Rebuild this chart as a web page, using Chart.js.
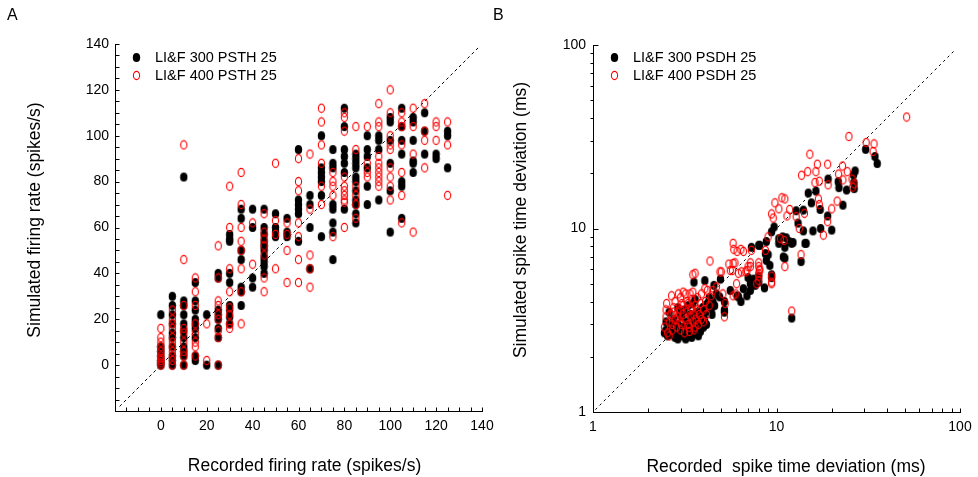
<!DOCTYPE html>
<html>
<head>
<meta charset="utf-8">
<script src="https://cdn.jsdelivr.net/npm/chart.js@4/dist/chart.umd.min.js"></script>
<style>
  html, body { margin: 0; padding: 0; background: #fff; }
  #wrap { position: relative; width: 978px; height: 477px; }
  canvas { position: absolute; top: 0; }
  #rates { left: 0; }
  #spikes { left: 489px; }
</style>
</head>
<body>
<div id="wrap">
  <canvas id="rates" width="520" height="477"></canvas>
  <canvas id="spikes" width="489" height="477"></canvas>
</div>
<script>
// Panel A: firing rates, one column of simulated values per recorded rate
var recordedRates = [0, 5, 10, 15, 20, 25, 30, 35, 40, 45, 50, 55, 60, 65, 70, 75, 80, 85, 90, 95, 100, 105, 110, 115, 120, 125];

var psth300 = [
	[22, 8, 6, 4, 2, 1, 0],
	[30, 26, 22, 18, 14, 12, 8, 4, 2, 0],
	[82, 28, 26, 22, 18, 15, 12, 8, 6, 4, 0],
	[36, 28, 24, 20, 18, 16, 12, 4, 2],
	[22, 0],
	[40, 38, 24, 22, 20, 16, 12, 0],
	[57, 55, 54, 40, 36, 26, 24, 21, 18],
	[68, 64, 50, 46, 34, 32, 26],
	[68, 60, 38, 34],
	[68, 60, 57, 54, 52, 50, 47, 45, 43, 40],
	[66, 60, 58, 56],
	[64, 58, 56],
	[94, 72, 70, 68, 66, 54],
	[74, 70, 60, 42],
	[100, 86, 84, 82, 80, 74, 56],
	[94, 88, 86, 70, 68, 62, 58, 46],
	[112, 104, 94, 91, 88, 84, 68],
	[92, 90, 88, 86, 82, 80, 76, 72, 70, 66, 62],
	[100, 94, 91, 86, 78, 70],
	[100, 98, 94, 72],
	[108, 106, 98, 88, 76, 58],
	[112, 104, 98, 92, 80, 78, 64],
	[108, 106, 98, 89, 88, 84],
	[110, 102, 92],
	[92, 90],
	[102, 100, 86]
];

var psth400 = [
	[16, 12, 10, 8, 6, 4, 3, 2, 1, 0],
	[24, 20, 18, 16, 12, 10, 8, 6, 4, 2, 0],
	[96, 46, 26, 16, 14, 10, 6, 4, 0],
	[38, 32, 26, 18, 14, 10, 8, 4],
	[18, 2],
	[52, 38, 28, 26, 22, 20, 15, 12, 0],
	[78, 60, 42, 32, 25, 22, 18, 16],
	[84, 70, 60, 54, 50, 42, 32, 18],
	[62, 44],
	[66, 58, 55, 52, 48, 38, 32],
	[88, 63, 57, 42],
	[62, 57, 50, 36],
	[90, 80, 76, 62, 56, 46, 36],
	[92, 68, 48, 42, 34],
	[112, 106, 96, 88, 78, 70],
	[84, 80, 78, 74, 56],
	[110, 108, 102, 82, 78, 76, 74, 72, 71, 60],
	[104, 94, 78, 74, 70, 64],
	[104, 88, 84, 82],
	[114, 106, 104, 91, 88, 86, 84, 82, 80, 78],
	[120, 110, 100, 96, 94, 86, 82, 78, 72],
	[110, 106, 104, 96, 84, 74, 62],
	[112, 104, 92, 58],
	[114, 102, 98, 86],
	[106, 104, 98],
	[106, 96, 74]
];

// Panel B: [recorded, simulated] spike time deviation in ms
var psdh300 = [
	[2.45, 2.7], [2.5, 2.8], [2.5, 3.1], [2.55, 2.6], [2.6, 3.5], [2.65, 2.9], [2.7, 2.65], [2.7, 3.0],
	[2.75, 3.2], [2.8, 2.55], [2.85, 2.8], [2.9, 2.5], [2.9, 3.0], [2.9, 3.7], [2.95, 2.6], [3.0, 2.75],
	[3.0, 3.4], [3.05, 3.3], [3.1, 2.6], [3.1, 2.9], [3.15, 3.6], [3.2, 2.5], [3.2, 2.7], [3.25, 3.1],
	[3.3, 2.6], [3.3, 3.8], [3.35, 2.85], [3.4, 3.4], [3.45, 2.55], [3.45, 2.65], [3.5, 2.9], [3.5, 3.9],
	[3.55, 3.2], [3.55, 5.1], [3.6, 2.7], [3.6, 4.1], [3.65, 2.95], [3.7, 3.5], [3.75, 2.6], [3.75, 2.8],
	[3.8, 3.1], [3.85, 2.75], [3.9, 3.3], [3.95, 3.7], [4.0, 2.9], [4.05, 3.2], [4.1, 3.5], [4.15, 3.0],
	[4.2, 3.9], [4.3, 4.2], [4.4, 3.6], [4.45, 3.4], [4.5, 4.0], [4.6, 3.8], [4.7, 4.4],
	[4.07, 5.2], [4.56, 4.9], [4.95, 5.3], [4.9, 4.24], [5.2, 4.0], [5.2, 3.5], [5.2, 3.6], [5.6, 4.6],
	[6.1, 4.3], [6.2, 4.25], [6.4, 4.0], [6.6, 4.7], [6.9, 4.3], [7.0, 5.4], [7.2, 5.0], [7.2, 4.6],
	[7.5, 5.3], [7.65, 4.9], [8.0, 5.1], [8.0, 5.5], [8.6, 4.75], [8.8, 6.7], [9.0, 7.2], [9.2, 6.3],
	[9.4, 5.4], [9.4, 5.6], [7.3, 7.9], [8.0, 8.1], [8.1, 8.1], [8.7, 7.3], [8.8, 8.5], [9.7, 10.2],
	[9.4, 9.6], [10.3, 8.8], [10.8, 9.0], [11.3, 8.9], [11.7, 8.5], [12.3, 8.4], [10.3, 8.3], [11.1, 7.9],
	[11.1, 6.9], [10.9, 7.0], [12.1, 8.3], [13.6, 6.6], [14.3, 8.3], [14.5, 8.3], [12.1, 3.25], [13.1, 10.7],
	[12.8, 12.5], [14.0, 9.7], [15.8, 9.7], [17.4, 10.0], [20.0, 9.8], [19.0, 11.7], [14.0, 12.6], [15.5, 13.8],
	[17.3, 12.7], [23.0, 13.4], [14.9, 15.6], [16.4, 16.0], [19.1, 18.6], [21.7, 18.0], [21.9, 16.7], [24.1, 16.2],
	[26.8, 20.6], [26.3, 19.6], [26.4, 17.8], [26.5, 16.5], [30.6, 27.0], [34.4, 24.7], [35.4, 22.6]
];

var psdh400 = [
	[2.45, 2.9], [2.5, 3.3], [2.5, 3.6], [2.52, 3.9], [2.55, 2.7], [2.6, 2.6], [2.6, 3.1], [2.65, 3.4],
	[2.68, 4.3], [2.7, 2.8], [2.7, 3.0], [2.75, 3.5], [2.75, 3.7], [2.8, 3.2], [2.8, 4.0], [2.85, 2.9],
	[2.9, 3.3], [2.9, 3.5], [2.92, 4.4], [2.95, 3.1], [3.0, 2.8], [3.0, 3.6], [3.0, 4.2], [3.05, 3.0],
	[3.05, 3.9], [3.1, 3.4], [3.1, 3.8], [3.1, 4.5], [3.15, 2.7], [3.2, 3.2], [3.2, 4.4], [3.25, 3.5],
	[3.25, 4.0], [3.3, 3.0], [3.3, 3.9], [3.35, 2.75], [3.35, 2.9], [3.38, 4.4], [3.4, 3.3], [3.4, 3.6],
	[3.45, 3.7], [3.45, 4.1], [3.5, 3.1], [3.5, 4.5], [3.55, 2.8], [3.55, 3.4], [3.6, 2.9], [3.6, 3.8],
	[3.65, 3.2], [3.7, 3.6], [3.7, 4.2], [3.75, 3.0], [3.8, 3.4], [3.85, 3.9], [3.9, 3.2], [3.9, 4.4],
	[4.0, 3.1], [4.0, 3.6], [4.1, 4.0], [4.15, 3.4], [4.2, 4.6], [4.3, 3.8], [4.4, 4.3], [4.5, 4.6],
	[3.5, 5.6], [3.6, 5.7], [4.07, 4.7], [4.34, 6.65], [4.7, 4.8], [4.92, 5.8], [5.0, 5.8], [5.1, 4.4],
	[5.2, 3.3], [5.25, 3.9], [5.5, 6.4], [5.6, 5.9], [5.75, 5.9], [5.8, 6.45], [5.8, 4.3], [5.94, 6.5],
	[6.0, 4.4], [6.06, 5.0], [6.2, 5.7], [6.45, 5.8], [6.8, 5.8], [6.9, 5.9], [7.0, 6.2], [7.2, 6.2],
	[7.2, 6.5], [7.8, 5.0], [8.0, 5.2], [8.0, 5.5], [8.0, 5.7], [8.0, 6.2], [8.0, 6.5], [8.1, 5.9],
	[8.1, 6.0], [9.4, 5.0], [9.4, 5.1], [9.4, 5.5], [5.8, 8.3], [5.85, 7.7], [6.1, 7.5], [6.4, 7.7],
	[6.6, 7.5], [7.3, 7.6], [8.7, 7.6], [9.0, 9.0], [10.5, 8.8], [11.0, 8.6], [11.1, 6.2], [13.6, 7.2],
	[12.1, 3.55], [9.8, 13.8], [10.3, 12.8], [9.4, 12.0], [9.6, 11.4], [11.8, 12.7], [11.4, 11.7], [11.1, 14.5],
	[10.7, 14.7], [12.8, 11.6], [13.3, 10.0], [14.2, 12.1], [14.8, 20.4], [13.7, 19.5], [16.4, 20.4], [15.2, 25.4],
	[16.7, 22.4], [19.0, 22.4], [17.1, 18.1], [16.2, 17.8], [16.9, 14.5], [17.1, 13.5], [18.0, 9.2], [19.1, 17.3],
	[20.0, 12.8], [21.4, 14.1], [19.0, 10.9], [22.9, 21.9], [21.8, 19.8], [24.3, 20.4], [25.8, 18.6], [23.0, 18.4],
	[26.5, 17.5], [26.0, 16.8], [24.8, 31.7], [30.8, 29.4], [34.0, 28.9], [33.6, 26.3], [51.2, 40.5]
];

var rateTicks = [0, 20, 40, 60, 80, 100, 120, 140];
var decadeTicks = [1, 10, 100];

var FONT = '"Liberation Sans", Arial, Helvetica, sans-serif';

// Small elliptical markers, filled black and open red
function ellipseMark(filled) {
	var c = document.createElement('canvas');
	c.width = 9;
	c.height = 11;
	var g = c.getContext('2d');
	g.beginPath();
	if (filled) {
		g.ellipse(4.5, 5.5, 3.7, 4.5, 0, 0, Math.PI * 2);
		g.fillStyle = '#000';
		g.fill();
	} else {
		g.ellipse(4.5, 5.5, 3.1, 4.1, 0, 0, Math.PI * 2);
		g.strokeStyle = '#ff0000';
		g.lineWidth = 1.1;
		g.stroke();
	}
	return c;
}
var blackMark = ellipseMark(true);
var redMark = ellipseMark(false);

function columnPoints(cols) {
	return recordedRates.flatMap(function (x, i) {
		return cols[i].map(function (y) { return { x: x, y: y }; });
	});
}

function pairPoints(list) {
	return list.map(function (p) { return { x: p[0], y: p[1] }; });
}

function range(from, to, step) {
	var out = [];
	for (var v = from; v <= to + 1e-9; v += step) out.push(v);
	return out;
}

var logMinor = range(1, 9, 1).concat(range(10, 100, 10));

// Axes, ticks, titles and legend drawn on top of the chart area
var frame = {
	id: 'frame',
	afterDraw: function (chart, args, o) {
		var ctx = chart.ctx, a = chart.chartArea;
		var sx = chart.scales.x, sy = chart.scales.y;
		var L = Math.round(a.left) + 0.5, B = Math.round(a.bottom) + 0.5;
		ctx.save();
		ctx.strokeStyle = '#000';
		ctx.lineWidth = 1;
		ctx.beginPath();
		ctx.moveTo(L, Math.round(a.top));
		ctx.lineTo(L, B);
		ctx.lineTo(Math.round(a.right) + 1, B);
		o.xTicks.forEach(function (v) {
			var p = Math.round(sx.getPixelForValue(v)) + 0.5;
			ctx.moveTo(p, B);
			ctx.lineTo(p, B - o.xTickLen);
		});
		o.yTicks.forEach(function (v) {
			var p = Math.round(sy.getPixelForValue(v)) + 0.5;
			var len = o.yLabels.indexOf(v) >= 0 ? o.yMajorLen : o.yMinorLen;
			ctx.moveTo(L, p);
			ctx.lineTo(L + len, p);
		});
		ctx.stroke();

		ctx.fillStyle = '#000';
		ctx.font = '14px ' + FONT;
		ctx.textAlign = 'center';
		ctx.textBaseline = 'middle';
		o.xLabels.forEach(function (v) {
			ctx.fillText(String(v), sx.getPixelForValue(v), a.bottom + 15.5);
		});
		ctx.textAlign = 'right';
		o.yLabels.forEach(function (v) {
			ctx.fillText(String(v), a.left + o.yLabelGap, sy.getPixelForValue(v));
		});

		ctx.font = '17.5px ' + FONT;
		ctx.textAlign = 'center';
		ctx.fillText(o.xTitle, (a.left + a.right) / 2 + o.xTitleShift, a.bottom + 55);
		ctx.save();
		ctx.translate(o.yTitleX, 220);
		ctx.rotate(-Math.PI / 2);
		ctx.fillText(o.yTitle, 0, 0);
		ctx.restore();

		ctx.font = '16px ' + FONT;
		ctx.textAlign = 'left';
		ctx.textBaseline = 'alphabetic';
		ctx.fillText(o.letter, o.letterX, 20);

		ctx.font = '14.5px ' + FONT;
		ctx.textBaseline = 'middle';
		chart.data.datasets.forEach(function (ds) {
			if (ds.legendRow === undefined) return;
			var y = 57.5 + ds.legendRow * 18;
			var m = ds.pointStyle;
			ctx.drawImage(m, Math.round(o.legendX - m.width / 2), Math.round(y - m.height / 2));
			ctx.fillText(ds.label, o.legendX + 19, y);
		});
		ctx.restore();
	}
};

function scatterSet(label, data, mark, row, order) {
	return {
		label: label,
		data: data,
		pointStyle: mark,
		legendRow: row,
		order: order
	};
}

function diagonal(from, to, dash) {
	return {
		type: 'line',
		data: [{ x: from, y: from }, { x: to, y: to }],
		borderColor: '#000',
		borderWidth: 1,
		borderDash: dash,
		pointRadius: 0,
		order: 2
	};
}

// A: firing rate
new Chart(document.getElementById('rates'), {
	type: 'scatter',
	data: {
		datasets: [
			scatterSet('LI&F 400 PSTH 25', columnPoints(psth400), redMark, 1, 0),
			scatterSet('LI&F 300 PSTH 25', columnPoints(psth300), blackMark, 0, 1),
			diagonal(-18, 139, [3, 3])
		]
	},
	options: {
		responsive: false,
		animation: false,
		events: [],
		layout: { padding: { left: 115, top: 44, right: 38, bottom: 66 } },
		scales: {
			x: { type: 'linear', min: -20, max: 140, display: false },
			y: { type: 'linear', min: -20, max: 140, display: false }
		},
		plugins: {
			legend: { display: false },
			tooltip: { enabled: false },
			frame: {
				letter: 'A', letterX: 7,
				xTicks: range(-20, 140, 5), xTickLen: 4, xLabels: rateTicks,
				yTicks: range(-20, 140, 5), yLabels: rateTicks, yMajorLen: 4, yMinorLen: 4, yLabelGap: -6,
				xTitle: 'Recorded firing rate (spikes/s)', xTitleShift: 6,
				yTitle: 'Simulated firing rate (spikes/s)', yTitleX: 35.5,
				legendX: 136
			}
		}
	},
	plugins: [frame]
});

// B: spike time deviation, log-log
new Chart(document.getElementById('spikes'), {
	type: 'scatter',
	data: {
		datasets: [
			scatterSet('LI&F 400 PSDH 25', pairPoints(psdh400), redMark, 1, 0),
			scatterSet('LI&F 300 PSDH 25', pairPoints(psdh300), blackMark, 0, 1),
			diagonal(1.03, 95, [2.5, 3.5])
		]
	},
	options: {
		responsive: false,
		animation: false,
		events: [],
		layout: { padding: { left: 104, top: 45, right: 18, bottom: 65 } },
		scales: {
			x: { type: 'logarithmic', min: 1, max: 100, display: false },
			y: { type: 'logarithmic', min: 1, max: 100, display: false }
		},
		plugins: {
			legend: { display: false },
			tooltip: { enabled: false },
			frame: {
				letter: 'B', letterX: 4,
				xTicks: logMinor, xTickLen: 4, xLabels: decadeTicks,
				yTicks: logMinor, yLabels: decadeTicks, yMajorLen: 5, yMinorLen: -3, yLabelGap: -7,
				xTitle: 'Recorded  spike time deviation (ms)', xTitleShift: 9.5,
				yTitle: 'Simulated spike time deviation (ms)', yTitleX: 32,
				legendX: 125
			}
		}
	},
	plugins: [frame]
});
</script>
</body>
</html>
